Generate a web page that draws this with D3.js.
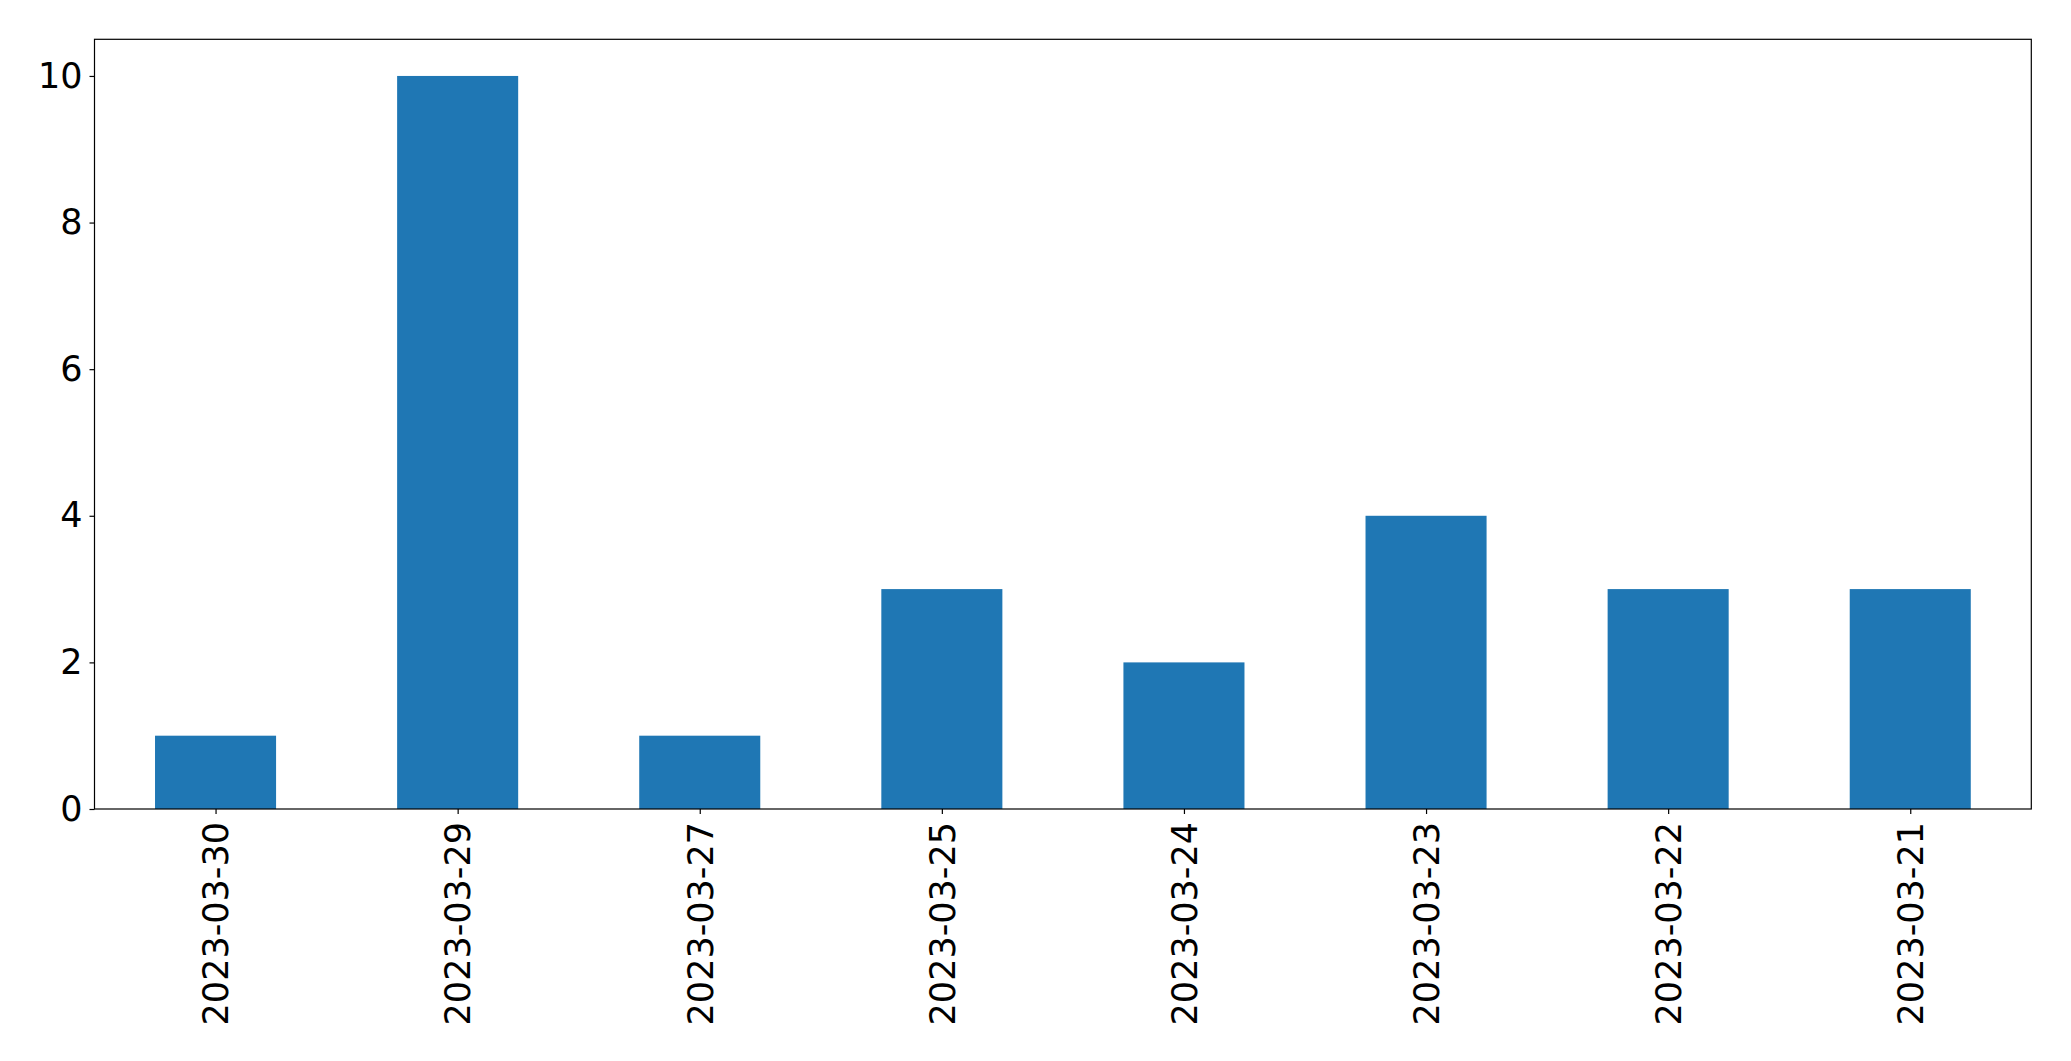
<!DOCTYPE html>
<html><head><meta charset="utf-8">
<script src="https://cdn.jsdelivr.net/npm/d3@7"></script>
<style>body{margin:0;background:#fff;} svg{display:block;font-family:"DejaVu Sans";}</style>
</head><body>
<svg id="c" width="2071" height="1061"></svg>
<script>
const categories = ["2023-03-30","2023-03-29","2023-03-27","2023-03-25","2023-03-24","2023-03-23","2023-03-22","2023-03-21"];
const values = [1,10,1,3,2,4,3,3];
const yTicks = [0,2,4,6,8,10];

const L=94.5, R=2031.3, T=39.3, B=809;
const svg=d3.select("#c");
const x=d3.scaleLinear().domain([-0.5,categories.length-0.5]).range([L,R]);
const y=d3.scaleLinear().domain([0,10.5]).range([B,T]);
const fs=35;

svg.append("g").selectAll("rect").data(values).join("rect")
  .attr("x",(d,i)=>x(i-0.25)).attr("width",(d,i)=>x(i+0.25)-x(i-0.25))
  .attr("y",d=>y(d)).attr("height",d=>B-y(d)).attr("fill","#1f77b4");

const ya=svg.append("g").attr("transform",`translate(${L},0)`)
  .call(d3.axisLeft(y).tickValues(yTicks).tickSize(5).tickPadding(7).tickFormat(d3.format("d")));
ya.select(".domain").remove();
ya.selectAll("text").attr("font-size",fs).attr("font-family","DejaVu Sans").attr("fill","#000");
ya.selectAll("line").attr("stroke","#000").attr("stroke-width",1.2);

const xa=svg.append("g").attr("transform",`translate(0,${B})`)
  .call(d3.axisBottom(x).tickValues(d3.range(categories.length)).tickSize(5).tickFormat(i=>categories[i]));
xa.select(".domain").remove();
xa.selectAll("line").attr("stroke","#000").attr("stroke-width",1.2);
xa.selectAll("text").attr("font-size",fs).attr("font-family","DejaVu Sans").attr("fill","#000")
  .attr("transform","rotate(-90)").attr("text-anchor","end").attr("x",-13).attr("y",0).attr("dy","0.35em");

svg.append("rect").attr("x",L).attr("y",T).attr("width",R-L).attr("height",B-T)
  .attr("fill","none").attr("stroke","#000").attr("stroke-width",1.2);
</script>
</body></html>
